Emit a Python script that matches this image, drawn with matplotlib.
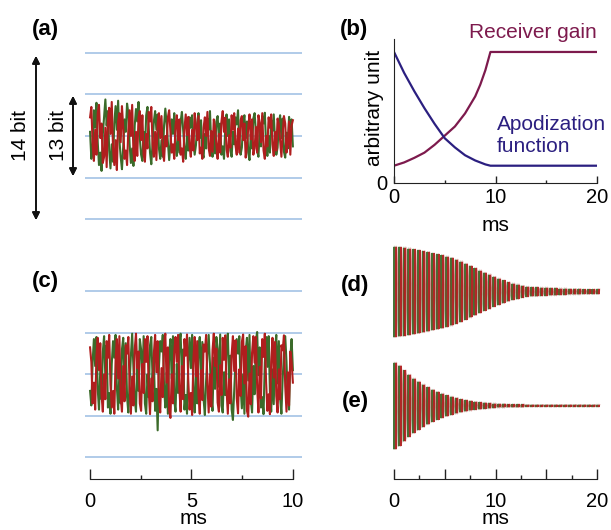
import numpy as np
import matplotlib
matplotlib.use("Agg")
import matplotlib.pyplot as plt

plt.rcParams["font.family"] = ["Liberation Sans", "DejaVu Sans"]

W, H = 611, 530

# Datos
# (a) señal cruda, 0-10 ms (unidades: líneas azules en ±1, ±2)
green_a = [
    0.10, -0.55, -0.30, 0.62, 0.20, 0.80, -0.15, -0.70, -0.40, -0.84,
    0.05, 0.45, 0.88, 0.25, 0.60, -0.35, -0.78, -0.20, -0.62, 0.30,
    0.72, 0.15, 0.85, -0.10, -0.50, -0.80, -0.25, 0.40, 0.10, 0.78,
    0.55, -0.20, -0.65, -0.30, -0.72, 0.25, 0.65, 0.35, 0.82, -0.05,
    -0.45, -0.60, 0.10, -0.35, 0.50, 0.70, 0.20, -0.40, -0.68, -0.15,
    0.35, 0.60, 0.15, 0.52, -0.30, -0.55, -0.10, -0.50, 0.25, 0.66,
    0.30, -0.15, -0.58, -0.20, 0.40, 0.05, 0.55, -0.25, -0.48, 0.10,
    -0.40, 0.35, 0.58, 0.12, -0.30, -0.55, 0.00, -0.35, 0.45, 0.20,
    0.50, -0.10, -0.45, -0.22, 0.30, 0.55, -0.05, 0.38, -0.40, -0.52,
    0.05, -0.30, 0.42, 0.15, 0.60, -0.20, -0.50, 0.10, -0.42, 0.35,
    0.48, -0.05, 0.30, -0.45, -0.25, -0.55, 0.20, 0.52, 0.00, 0.40,
    -0.35, -0.50, 0.10, -0.20, 0.45, 0.28, 0.62, -0.15, -0.45, -0.28,
    0.30, 0.50, -0.05, 0.35, -0.40, -0.58, 0.05, -0.30, 0.42, 0.55,
    0.10, -0.35, -0.50, 0.15, -0.25, 0.48, 0.30, 0.56, -0.20, -0.48,
    0.00, -0.40, 0.38, 0.12, 0.52, -0.10, -0.45, -0.28, 0.30, 0.50,
    -0.05, 0.42, -0.38, -0.52, 0.08, -0.30, 0.46, 0.20, 0.40, -0.25,
]
red_a = [
    0.45, 0.70, -0.20, -0.60, 0.15, -0.45, 0.55, 0.75, -0.05, 0.30,
    -0.65, -0.50, 0.20, -0.75, 0.40, 0.68, 0.05, 0.82, -0.30, -0.70,
    -0.10, -0.82, 0.35, 0.55, -0.15, 0.72, 0.20, -0.55, -0.35, -0.70,
    0.15, 0.62, 0.00, 0.75, -0.40, -0.60, 0.10, -0.48, 0.45, 0.60,
    -0.10, 0.50, -0.45, -0.62, 0.05, -0.30, 0.58, 0.35, 0.70, -0.20,
    -0.50, 0.10, -0.58, 0.30, 0.55, -0.05, 0.48, -0.35, -0.60, 0.00,
    -0.25, 0.45, 0.62, 0.10, -0.40, -0.20, -0.55, 0.25, 0.50, -0.10,
    0.40, -0.45, -0.30, -0.62, 0.18, 0.52, 0.02, 0.46, -0.25, -0.50,
    0.15, -0.35, 0.55, 0.25, -0.10, 0.48, -0.42, -0.28, -0.55, 0.20,
    0.45, 0.00, 0.58, -0.30, -0.48, 0.12, -0.38, 0.40, 0.22, -0.20,
    -0.55, 0.05, -0.40, 0.35, 0.60, 0.10, 0.44, -0.32, -0.50, 0.02,
    -0.28, 0.50, 0.15, 0.55, -0.22, -0.45, 0.18, -0.40, 0.38, 0.48,
    -0.10, 0.30, -0.52, -0.25, 0.20, 0.52, -0.08, 0.40, -0.45, -0.30,
    0.22, -0.40, 0.50, 0.32, -0.15, 0.55, -0.35, -0.55, 0.00, -0.25,
    0.45, 0.20, 0.52, -0.20, -0.48, 0.10, -0.35, 0.42, 0.28, -0.12,
    -0.50, 0.05, 0.48, 0.30, -0.40, -0.20, 0.35, -0.45, 0.25, 0.38,
]

# (c) señal con ganancia, 0-10 ms
green_c = [
    -0.40, -0.75, 0.30, 0.85, 0.20, 0.90, -0.35, -0.85, 0.10, -0.60,
    0.55, 0.92, -0.10, 0.70, -0.80, -0.45, -0.95, 0.25, 0.80, 0.40,
    0.95, -0.30, -0.85, 0.05, -0.70, 0.60, 0.88, -0.15, 0.75, -0.55,
    -0.92, -0.20, 0.45, 0.98, 0.15, -0.60, -0.90, 0.35, -0.40, 0.85,
    0.60, -0.25, 0.92, -0.70, -0.95, 0.00, -0.55, 0.70, 0.90, -0.10,
    0.40, -0.88, -0.35, -1.35, 0.20, 0.80, 0.55, 0.95, -0.30, -0.80,
    0.05, -0.95, 0.50, 0.85, -0.10, 0.92, -0.62, -0.90, 0.25, -0.45,
    0.80, 0.98, -0.05, 0.60, -0.85, -0.50, -0.95, 0.30, 0.88, 0.15,
    0.95, -0.40, -0.92, 0.10, -0.70, 0.65, 0.90, -0.20, 0.78, -0.60,
    -0.98, -0.15, 0.50, 0.95, 0.25, -0.55, -0.88, 0.40, -0.35, 0.90,
    0.62, -0.30, 0.96, -0.75, -0.92, 0.05, -0.50, 0.72, 0.98, -0.12,
    0.45, -0.85, -1.10, -0.40, 0.30, 0.85, 0.50, 0.92, -0.28, -0.82,
    0.00, -0.95, 0.55, 0.88, -0.15, 0.95, -0.60, -0.92, 0.20, -0.48,
    0.82, 1.02, -0.02, 0.65, -0.80, -0.55, -0.96, 0.28, 0.90, 0.18,
    0.92, -0.42, -0.90, 0.12, -0.72, 0.60, 0.95, -0.22, 0.80, -0.58,
    -0.95, -0.10, 0.48, 0.92, 0.30, -0.60, -0.85, 0.40, 0.85, 0.10,
]
red_c = [
    0.65, 0.30, -0.70, -0.20, -0.85, 0.45, 0.88, 0.10, 0.75, -0.50,
    -0.90, 0.00, -0.60, 0.80, 0.40, 0.95, -0.25, -0.80, -0.40, -0.95,
    0.35, 0.85, -0.10, 0.92, -0.55, -0.90, 0.20, -0.65, 0.70, 0.50,
    0.90, -0.30, -0.95, -0.05, -0.75, 0.60, 0.98, 0.15, 0.55, -0.70,
    -0.88, 0.25, -0.45, 0.85, 0.30, 0.92, -0.40, -0.96, -0.10, -0.65,
    0.50, 0.95, 0.05, 0.80, -0.60, -0.92, 0.15, -0.55, 0.75, 0.98,
    -0.20, 0.65, -0.85, -1.05, 0.00, -0.70, 0.55, 0.90, 0.30, 0.95,
    -0.35, -0.90, 0.20, -0.60, 0.85, 0.45, 0.96, -0.15, -0.85, -0.45,
    -0.98, 0.35, 0.90, -0.05, 0.80, -0.50, -0.95, 0.10, -0.62, 0.72,
    0.55, 0.95, -0.25, -0.92, 0.00, -0.78, 0.58, 0.98, 0.20, 0.62,
    -0.68, -0.90, 0.22, -0.50, 0.88, 0.35, 0.94, -0.38, -0.95, -0.12,
    -0.70, 0.48, 0.92, 0.08, 0.82, -0.58, -0.94, 0.12, -0.52, 0.78,
    0.96, -0.22, 0.68, -0.88, -1.02, 0.02, -0.72, 0.52, 0.92, 0.28,
    0.90, -0.32, -0.92, 0.18, -0.58, 0.85, 0.42, 0.98, -0.18, -0.88,
    -0.48, -0.96, 0.32, 0.88, -0.08, 0.78, -0.52, -0.92, 0.12, -0.60,
    0.70, 0.58, 0.94, -0.28, -0.90, 0.05, -0.75, 0.55, 0.30, -0.20,
]

# (b) ganancia del receptor y función de apodización
t_b = [0, 1, 2, 3, 4, 5, 6, 7, 8, 8.5, 9, 9.5, 20]
gain = [0.13, 0.155, 0.19, 0.23, 0.29, 0.36, 0.43, 0.53, 0.66, 0.75, 0.86, 1.0, 1.0]
apod = [1.0, 0.84, 0.70, 0.57, 0.45, 0.34, 0.27, 0.21, 0.17, 0.155, 0.14, 0.13, 0.13]

# (d) y (e) amplitud de cada ciclo, 0-20 ms
env_d = [
    1.00, 0.99, 0.98, 0.96, 0.94, 0.92, 0.90, 0.88, 0.85, 0.83,
    0.81, 0.78, 0.75, 0.71, 0.67, 0.62, 0.57, 0.52, 0.47, 0.42,
    0.38, 0.33, 0.29, 0.25, 0.21, 0.18, 0.16, 0.13, 0.11, 0.10,
    0.10, 0.09, 0.09, 0.08, 0.08, 0.07, 0.07, 0.06, 0.06, 0.06,
    0.05, 0.05, 0.05, 0.05,
]
env_e = [
    1.00, 0.93, 0.82, 0.72, 0.63, 0.56, 0.49, 0.43, 0.37, 0.32,
    0.28, 0.24, 0.21, 0.18, 0.15, 0.13, 0.11, 0.09, 0.08, 0.07,
    0.06, 0.05, 0.04, 0.04, 0.03, 0.03, 0.03, 0.03, 0.02, 0.02,
    0.02, 0.02, 0.02, 0.02, 0.02, 0.02, 0.02, 0.02, 0.02, 0.02,
    0.02, 0.02, 0.02, 0.02,
]

GREEN = "#3b6b2a"
RED = "#b01e1e"
BLUE = "#9bbde3"
GAIN_C = "#7d1a4d"
APOD_C = "#2b1f80"
AX_C = "#222222"

fig = plt.figure(figsize=(W / 100, H / 100), dpi=100)


def px_axes(left, top, right, bottom):
    return fig.add_axes([left / W, 1 - bottom / H, (right - left) / W, (bottom - top) / H])


def px_text(x, y, s, **kw):
    fig.text(x / W, 1 - y / H, s, **kw)


def noise_panel(ax, g, r):
    for yl in [-2, -1, 0, 1, 2]:
        ax.axhline(yl, color=BLUE, lw=1.1, zorder=0)
    ax.plot(np.linspace(0, 10, len(g)), g, color=GREEN, lw=1.5)
    ax.plot(np.linspace(0, 10, len(r)), r, color=RED, lw=1.5)
    ax.set_xlim(-0.25, 10.45)
    for s in ["top", "left", "right", "bottom"]:
        ax.spines[s].set_visible(False)
    ax.set_yticks([])
    ax.set_xticks([])


def decay_panel(ax, env):
    env = np.array(env)
    t_cyc = np.linspace(0, 20, len(env))
    # fondo pálido entre trazos
    ax.fill_between(t_cyc, -env, env, color="#d49a9a", alpha=0.3, lw=0)
    for col, dt in [(GREEN, 0.0), (RED, 0.18)]:
        tt = np.repeat(t_cyc + dt, 2)
        tt[1::2] += 0.04
        yy = np.empty(2 * len(env))
        yy[0::2] = -env
        yy[1::2] = env
        ax.plot(tt, yy, color=col, lw=1.4, alpha=0.4, clip_on=False)
        ax.vlines(t_cyc + dt + 0.02, -env, env, color=col, lw=1.3, clip_on=False)
    ax.set_xlim(0, 20)
    for s in ["top", "left", "right"]:
        ax.spines[s].set_visible(False)
    ax.set_yticks([])


# Panel (a)
ax_a = px_axes(85, 40.5, 302, 231.5)
noise_panel(ax_a, green_a, red_a)
ax_a.set_ylim(-2.3, 2.3)

# flechas de 14 bit y 13 bit
arr = dict(arrowstyle="<|-|>", color="#111111", lw=1.2, mutation_scale=11, shrinkA=0, shrinkB=0)
fig.add_artist(plt.annotate("", xy=(36, H - 56), xytext=(36, H - 220),
                            xycoords="figure pixels", textcoords="figure pixels", arrowprops=arr))
fig.add_artist(plt.annotate("", xy=(73, H - 96), xytext=(73, H - 176),
                            xycoords="figure pixels", textcoords="figure pixels", arrowprops=arr))
px_text(21, 135, "14 bit", rotation=90, ha="center", va="center", fontsize=15)
px_text(58, 135, "13 bit", rotation=90, ha="center", va="center", fontsize=15)

# Panel (c)
ax_c = px_axes(85, 278.9, 302, 479.3)
noise_panel(ax_c, green_c, red_c)
ax_c.set_ylim(-2.53, 2.3)
ax_c.spines["bottom"].set_visible(True)
ax_c.spines["bottom"].set_bounds(0, 10)
ax_c.spines["bottom"].set_color(AX_C)
ax_c.set_xticks([0, 5, 10])
ax_c.set_xticklabels(["0", "5", "10"])
ax_c.set_xticks([2.5, 7.5], minor=True)
ax_c.tick_params(axis="x", which="major", direction="in", length=7.2, width=1,
                 color=AX_C, labelsize=14.5, pad=9)
ax_c.tick_params(axis="x", which="minor", direction="in", length=3.1, width=1, color=AX_C)
ax_c.set_xlabel("ms", fontsize=15, labelpad=-1)

# Panel (b)
ax_b = px_axes(394, 38.9, 597, 182.7)
ax_b.plot(t_b, gain, color=GAIN_C, lw=1.6)
ax_b.plot(t_b, apod, color=APOD_C, lw=1.6)
ax_b.set_xlim(0, 20)
ax_b.set_ylim(0, 1.1)
for s in ["top", "right"]:
    ax_b.spines[s].set_visible(False)
for s in ["left", "bottom"]:
    ax_b.spines[s].set_color(AX_C)
ax_b.set_xticks([0, 10, 20])
ax_b.set_xticks([5, 15], minor=True)
ax_b.set_yticks([0])
ax_b.tick_params(axis="x", which="major", direction="in", length=5, width=1,
                 color=AX_C, labelsize=14.5, pad=4)
ax_b.tick_params(axis="x", which="minor", direction="in", length=2.4, width=1, color=AX_C)
ax_b.tick_params(axis="y", length=0, labelsize=14.5, pad=5)
ax_b.set_xlabel("ms", fontsize=15, labelpad=6)
px_text(374, 108, "arbitrary unit", rotation=90, ha="center", va="center", fontsize=15)
px_text(533, 33, "Receiver gain", ha="center", va="center", fontsize=15, color=GAIN_C)
px_text(497, 124, "Apodization", ha="left", va="center", fontsize=15, color=APOD_C)
px_text(497, 147, "function", ha="left", va="center", fontsize=15, color=APOD_C)

# Panel (d)
ax_d = px_axes(394, 237.7, 597, 345.7)
decay_panel(ax_d, env_d)
ax_d.set_ylim(-1.2, 1.2)
ax_d.spines["bottom"].set_visible(False)
ax_d.set_xticks([])

# Panel (e)
ax_e = px_axes(394, 355, 597, 479.3)
decay_panel(ax_e, env_e)
ax_e.set_ylim(-1.71, 1.18)
ax_e.spines["bottom"].set_color(AX_C)
ax_e.set_xticks([0, 5, 10, 15, 20])
ax_e.set_xticklabels(["0", "", "10", "", "20"])
ax_e.set_xticks([2.5, 7.5, 12.5, 17.5], minor=True)
ax_e.tick_params(axis="x", which="major", direction="in", length=7.2, width=1,
                 color=AX_C, labelsize=14.5, pad=9)
ax_e.tick_params(axis="x", which="minor", direction="in", length=3.1, width=1, color=AX_C)
ax_e.set_xlabel("ms", fontsize=15, labelpad=-1)

# Etiquetas de panel
for x, y, s in [(45, 29, "(a)"), (354, 29, "(b)"), (45, 282, "(c)"),
                (355, 285, "(d)"), (355, 402, "(e)")]:
    px_text(x, y, s, ha="center", va="center", fontsize=16, fontweight="bold")

fig.savefig("out.png", dpi=100)
